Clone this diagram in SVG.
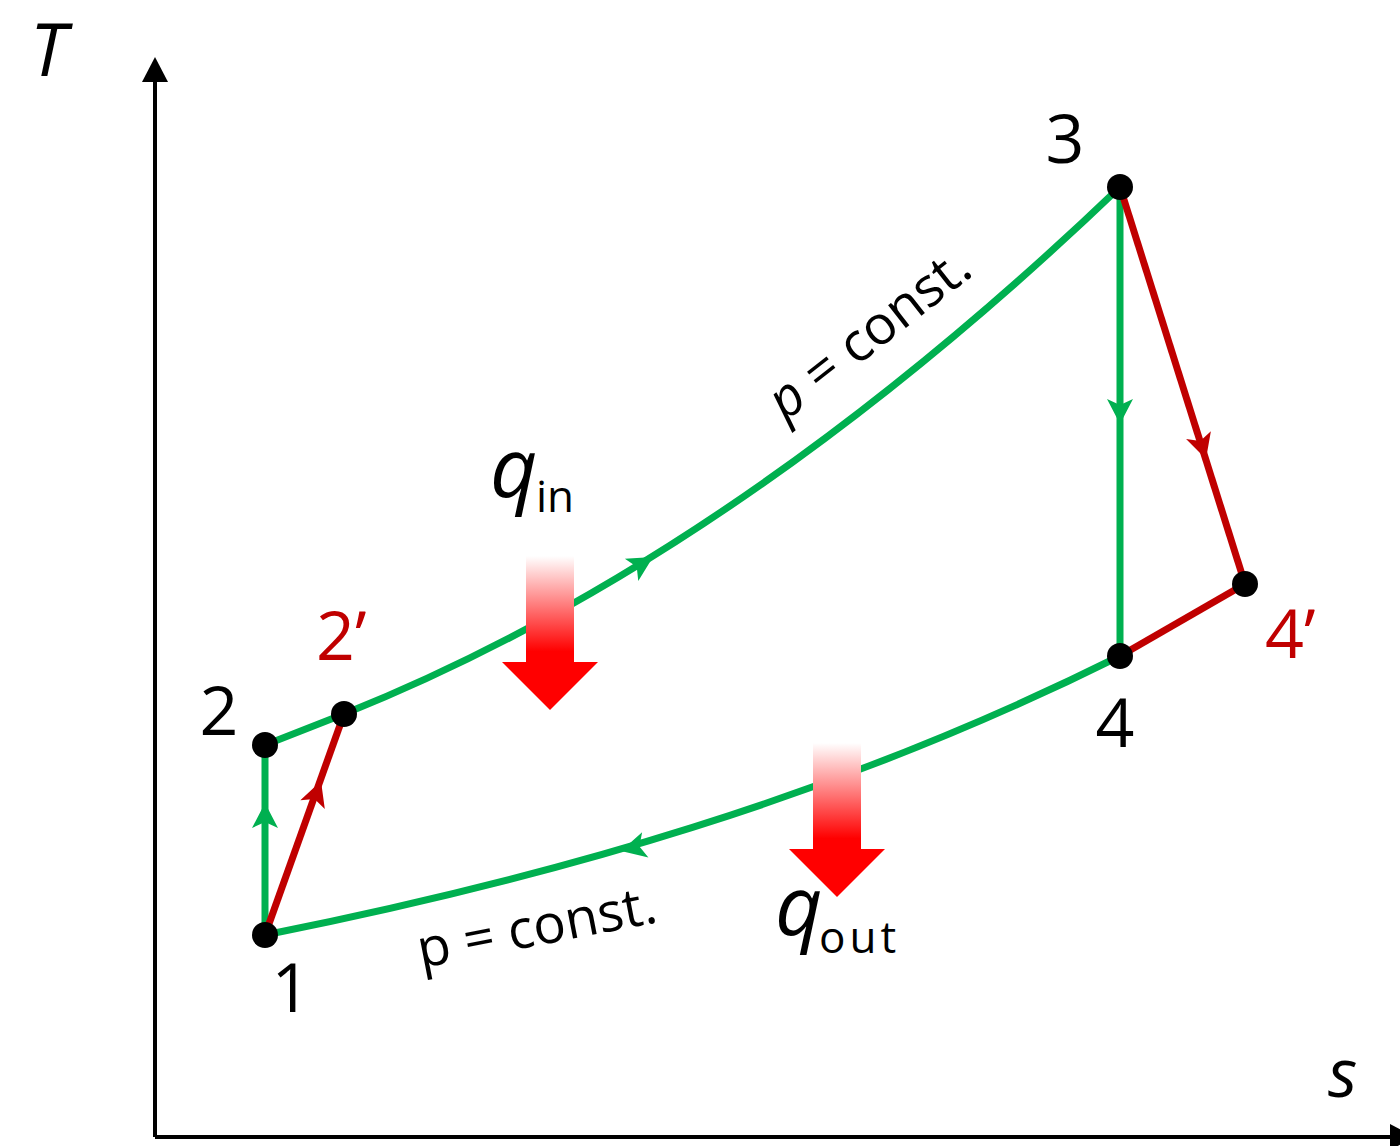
<svg xmlns="http://www.w3.org/2000/svg" width="1400" height="1146" viewBox="0 0 1400 1146">
<defs>
<style>
.g{fill:none;stroke:#00B050;stroke-width:7;stroke-linejoin:round}
.r{fill:none;stroke:#C00000;stroke-width:7}
.ax{stroke:#000;stroke-width:4;fill:none}
.dot{fill:#000}
.t{font-family:"Open Sans","Noto Sans",sans-serif;fill:#000}
.lab{font-size:68px}
.red{fill:#C00000}
.it{font-style:italic}
.pc{font-size:54px}
</style>
<path id="ah" d="M0,0 L-25,-13 L-19,0 L-25,13 Z"/>
<linearGradient id="hg" x1="0" y1="0" x2="0" y2="1">
<stop offset="0" stop-color="#FFFFFF"/>
<stop offset="0.62" stop-color="#FF0000"/>
<stop offset="1" stop-color="#FF0000"/>
</linearGradient>
</defs>
<g id="axes">
<line class="ax" x1="155" y1="1137" x2="155" y2="78"/>
<polygon points="155,57 142,82 168,82" fill="#000"/>
<line class="ax" x1="155" y1="1137" x2="1394" y2="1137"/>
<polygon points="1415,1137 1390,1124 1390,1150" fill="#000"/>
<text class="t it" x="30" y="76" font-size="73">T</text>
<text class="t it" x="1328" y="1097" font-size="68">s</text>
</g>
<g id="connectors">
<line class="g" x1="265" y1="935" x2="265" y2="745"/>
<path class="g" d="M265,745 L344,714 C604,610 860,436 1120,187"/>
<line class="g" x1="1120" y1="187" x2="1120" y2="656"/>
<path class="g" d="M1120,656 C835,798 550,878 265,935"/>
<line class="r" x1="265" y1="935" x2="344" y2="714"/>
<line class="r" x1="1120" y1="187" x2="1245" y2="584"/>
<line class="r" x1="1245" y1="584" x2="1120" y2="656"/>
<use href="#ah" fill="#00B050" transform="translate(265,803) rotate(-90)"/>
<use href="#ah" fill="#00B050" transform="translate(653,557) rotate(-31)"/>
<use href="#ah" fill="#00B050" transform="translate(1120,424) rotate(90)"/>
<use href="#ah" fill="#00B050" transform="translate(621,851) rotate(166)"/>
<use href="#ah" fill="#C00000" transform="translate(321,781) rotate(-70.3)"/>
<use href="#ah" fill="#C00000" transform="translate(1206,459) rotate(72.5)"/>
</g>
<g id="node-1"><circle class="dot" cx="265" cy="935" r="13"/><text class="t lab" x="291" y="1012" text-anchor="middle">1</text></g>
<g id="node-2"><circle class="dot" cx="265" cy="745" r="13"/><text class="t lab" x="219" y="735" text-anchor="middle">2</text></g>
<g id="node-2p"><circle class="dot" cx="344" cy="714" r="13"/><text class="t lab red" x="316" y="660">2’</text></g>
<g id="node-3"><circle class="dot" cx="1120" cy="187" r="13"/><text class="t lab" x="1065" y="163" text-anchor="middle">3</text></g>
<g id="node-4"><circle class="dot" cx="1120" cy="656" r="13"/><text class="t lab" x="1115" y="747" text-anchor="middle">4</text></g>
<g id="node-4p"><circle class="dot" cx="1245" cy="584" r="13"/><text class="t lab red" x="1265" y="658">4’</text></g>
<g id="qin">
<path d="M526,556 H574 V662 H598 L550,710 L502,662 H526 Z" fill="url(#hg)"/>
<text class="t"><tspan class="it" x="490" y="497" font-size="82">q</tspan><tspan x="536" y="512" font-size="44">in</tspan></text>
</g>
<g id="qout">
<path d="M813,743 H861 V849 H885 L837,897 L789,849 H813 Z" fill="url(#hg)"/>
<text class="t"><tspan class="it" x="775" y="935" font-size="82">q</tspan><tspan x="819" y="953" font-size="44" letter-spacing="4">out</tspan></text>
</g>
<g id="labels">
<text class="t pc" transform="translate(880,348) rotate(-38)" text-anchor="middle"><tspan class="it">p</tspan> = const.</text>
<text class="t pc" transform="translate(540,945) rotate(-11)" text-anchor="middle">p = const.</text>
</g>
</svg>
